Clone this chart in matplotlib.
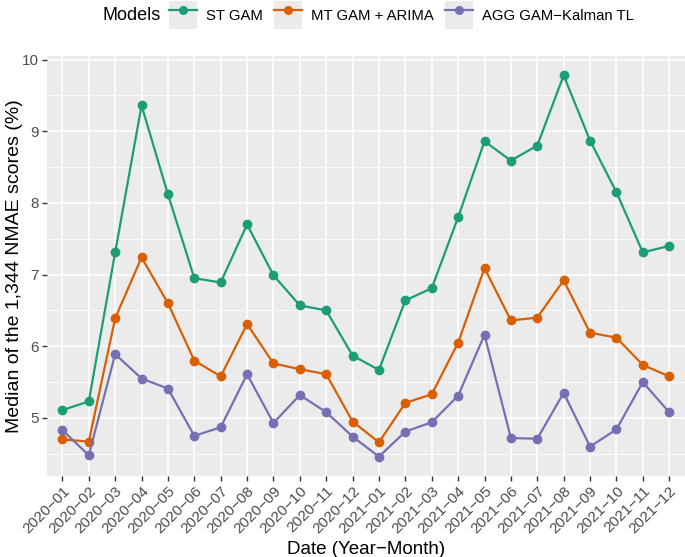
import matplotlib
matplotlib.use('Agg')
import matplotlib.pyplot as plt
from matplotlib.lines import Line2D
from matplotlib.patches import Patch
from matplotlib.legend_handler import HandlerTuple
import numpy as np

plt.rcParams['font.family'] = ['Liberation Sans', 'DejaVu Sans']

months = ['2020\u221201', '2020\u221202', '2020\u221203', '2020\u221204', '2020\u221205', '2020\u221206',
          '2020\u221207', '2020\u221208', '2020\u221209', '2020\u221210', '2020\u221211', '2020\u221212',
          '2021\u221201', '2021\u221202', '2021\u221203', '2021\u221204', '2021\u221205', '2021\u221206',
          '2021\u221207', '2021\u221208', '2021\u221209', '2021\u221210', '2021\u221211', '2021\u221212']

st_gam = [5.11, 5.23, 7.31, 9.36, 8.12, 6.95, 6.89, 7.70, 6.99, 6.57, 6.50, 5.87,
          5.67, 6.64, 6.81, 7.80, 8.86, 8.59, 8.80, 9.78, 8.87, 8.15, 7.31, 7.40]
mt_gam_arima = [4.70, 4.67, 6.39, 7.24, 6.60, 5.80, 5.58, 6.31, 5.76, 5.68, 5.61, 4.95,
                4.66, 5.21, 5.33, 6.05, 7.09, 6.36, 6.40, 6.92, 6.19, 6.12, 5.74, 5.58]
agg_gam_kalman = [4.83, 4.48, 5.89, 5.55, 5.41, 4.75, 4.87, 5.61, 4.93, 5.32, 5.08, 4.74,
                  4.46, 4.81, 4.94, 5.31, 6.16, 4.72, 4.71, 5.35, 4.60, 4.84, 5.50, 5.08]

series = [('ST GAM', st_gam, '#1B9E77'),
          ('MT GAM + ARIMA', mt_gam_arima, '#D95F02'),
          ('AGG GAM\u2212Kalman TL', agg_gam_kalman, '#7570B3')]

fig = plt.figure(figsize=(6.85, 5.57), dpi=100)
ax = fig.add_axes([0.068, 0.1454, 0.932, 0.7541])
ax.set_facecolor('#EBEBEB')

x = np.arange(len(months))
handles = []
for name, vals, col in series:
    ax.plot(x, vals, color=col, lw=1.6, marker='o', ms=6, zorder=3)
    handles.append((Patch(facecolor='#EBEBEB', edgecolor='none'),
                    Line2D([], [], color=col, lw=1.6, marker='o', ms=5.5)))

ax.set_xlim(-0.6, len(months) - 0.4)
ax.set_ylim(4.19, 10.05)
ax.set_xticks(x)
ax.set_xticklabels(months, rotation=45, ha='right', rotation_mode='anchor')
ax.set_yticks([5, 6, 7, 8, 9, 10])
ax.set_yticks(np.arange(4.5, 10.0, 1.0), minor=True)
ax.grid(True, which='major', color='white', lw=1.1)
ax.grid(True, which='minor', axis='y', color='white', lw=0.55)
ax.set_axisbelow(True)
for s in ax.spines.values():
    s.set_visible(False)
ax.tick_params(axis='both', which='major', length=3.5, width=1.0, color='#333333',
               labelsize=11, labelcolor='#4D4D4D', pad=2)
ax.tick_params(axis='y', which='minor', length=0)

ax.set_xlabel('Date (Year\u2212Month)', fontsize=13.5, labelpad=4)
ax.set_ylabel('Median of the 1,344 NMAE scores (%)', fontsize=14, labelpad=-1)

fig.text(102 / 685, 1 - 15 / 557, 'Models', fontsize=13, va='center', ha='left')
fig.legend(handles, [s[0] for s in series], handler_map={tuple: HandlerTuple(ndivide=1)},
           ncol=3, frameon=False, loc='center left', bbox_to_anchor=(169 / 685, 1 - 15 / 557),
           fontsize=10.7, handlelength=1.9, handleheight=2.5, handletextpad=0.6,
           columnspacing=0.75, borderaxespad=0, borderpad=0)

fig.savefig('out.png', dpi=100)
